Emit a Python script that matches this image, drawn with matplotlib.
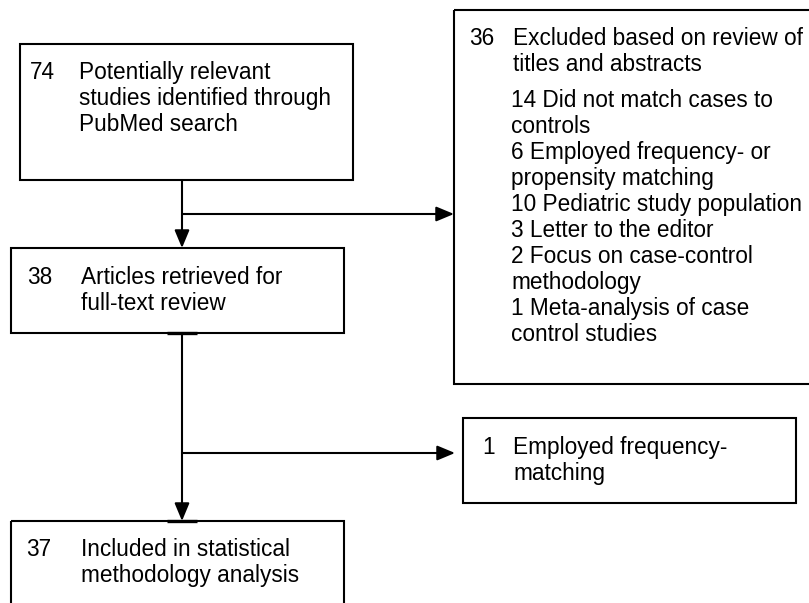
import matplotlib.pyplot as plt
from matplotlib.patches import Rectangle

# box contents: count and wrapped label lines
search_n = 74
search_lines = ['Potentially relevant', 'studies identified through', 'PubMed search']

retrieved_n = 38
retrieved_lines = ['Articles retrieved for', 'full-text review']

excluded_n = 36
excluded_lines = ['Excluded based on review of', 'titles and abstracts']
excluded_reasons = [
    '14 Did not match cases to', 'controls',
    '6 Employed frequency- or', 'propensity matching',
    '10 Pediatric study population',
    '3 Letter to the editor',
    '2 Focus on case-control', 'methodology',
    '1 Meta-analysis of case', 'control studies',
]

freq_n = 1
freq_lines = ['Employed frequency-', 'matching']

included_n = 37
included_lines = ['Included in statistical', 'methodology analysis']

plt.rcParams['font.family'] = ['Liberation Sans', 'DejaVu Sans']
FS = 16.3
LW = 1.5
STEP = 26

fig = plt.figure(figsize=(8.09, 6.03), dpi=100)
ax = fig.add_axes([0, 0, 1, 1])
ax.set_xlim(0, 809)
ax.set_ylim(603, 0)
ax.axis('off')


def box(x0, y0, x1, y1):
    ax.add_patch(Rectangle((x0, y0), x1 - x0, y1 - y0, fill=False,
                           edgecolor='black', lw=LW, clip_on=True))


def block(nx, tx, y, n, lines):
    ax.text(nx, y, str(n), fontsize=FS, va='baseline', ha='left')
    for i, s in enumerate(lines):
        ax.text(tx, y + i * STEP, s, fontsize=FS, va='baseline', ha='left')


def arrow(x0, y0, x1, y1):
    ax.annotate('', xy=(x1, y1), xytext=(x0, y0),
                arrowprops=dict(arrowstyle='-|>,head_length=0.6,head_width=0.25',
                                mutation_scale=18, lw=LW, color='black',
                                shrinkA=0, shrinkB=0))


# boxes
box(20, 44, 353, 180)
box(11, 248, 344, 333)
box(454, 10, 820, 384)
box(463, 418, 796, 503)
box(11, 521, 344, 620)

# small heavier ticks where the connector meets the boxes
ax.plot([167, 197], [333, 333], color='black', lw=2.4, solid_capstyle='butt')
ax.plot([167, 197], [521, 521], color='black', lw=2.4, solid_capstyle='butt')

# connectors
arrow(182, 180, 182, 248)
arrow(182, 214, 454, 214)
arrow(182, 333, 182, 521)
arrow(182, 453, 455, 453)

# texts
block(30, 79, 79, search_n, search_lines)
block(27, 81, 284, retrieved_n, retrieved_lines)
block(469, 513, 45, excluded_n, excluded_lines)
for i, s in enumerate(excluded_reasons):
    ax.text(511, 107 + i * STEP, s, fontsize=FS, va='baseline', ha='left')
block(482, 513, 454, freq_n, freq_lines)
block(26, 81, 556, included_n, included_lines)

plt.savefig('out.png', dpi=100)
